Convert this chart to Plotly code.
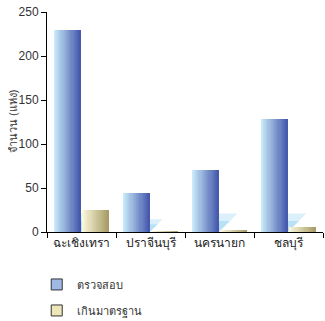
import plotly.graph_objects as go

provinces = ["ฉะเชิงเทรา", "ปราจีนบุรี", "นครนายก", "ชลบุรี"]
inspected = [230, 44, 71, 128]
over_standard = [25, 1, 2, 6]
series_names = ["ตรวจสอบ", "เกินมาตรฐาน"]

y_ticks = [0, 50, 100, 150, 200, 250]


def lerp_hex(c1, c2, t):
    a = [int(c1[i:i + 2], 16) for i in (1, 3, 5)]
    b = [int(c2[i:i + 2], 16) for i in (1, 3, 5)]
    return "#" + "".join(f"{round(a[k] + (b[k] - a[k]) * t):02x}" for k in range(3))


fig = go.Figure()

BLUE_START = -0.395
BAR_W = 0.385

# floor shadow behind the second bar of each group (main, linear x axis)
for i, v in enumerate(inspected):
    h = min(21.0, 0.33 * v)          # shadow height in value units
    w = h * 0.88 / 69.0              # matching width in category units
    r = i + BLUE_START + BAR_W
    for frac, col in [(1.0, "#dbf0fb"), (0.6, "#b9e1f6")]:
        fig.add_trace(go.Scatter(
            x=[r, r, r + w * frac, r], y=[0, h * frac, h * frac, 0],
            mode="lines", fill="toself", fillcolor=col, line=dict(width=0),
            xaxis="x", yaxis="y", showlegend=False, hoverinfo="skip",
        ))

# each bar is drawn as thin vertical slices to get a left-to-right gradient
N = 24
groups = [
    (inspected, BLUE_START, "#c9ecfa", "#4659ad"),
    (over_standard, 0.012, "#fbf9dc", "#a89d68"),
]
for values, start, c_light, c_dark in groups:
    sw = BAR_W / N
    for i in range(N):
        fig.add_trace(go.Bar(
            x=provinces, y=values, xaxis="x2", yaxis="y",
            width=sw * 1.05, offset=start + i * sw,
            marker=dict(color=lerp_hex(c_light, c_dark, i / (N - 1)), line=dict(width=0)),
            showlegend=False, hoverinfo="skip",
        ))

# legend entries
for name, fill in zip(series_names, ["#9fb9e6", "#ece6b8"]):
    fig.add_trace(go.Scatter(
        x=[None], y=[None], mode="markers", name=name, legendgroup=name,
        xaxis="x", yaxis="y",
        marker=dict(symbol="square", size=11, color=fill,
                    line=dict(color="#333333", width=1)),
    ))

fig.update_layout(
    width=325, height=321,
    margin=dict(l=47, r=2, t=12, b=89, autoexpand=False),
    paper_bgcolor="white", plot_bgcolor="white",
    barmode="overlay", bargap=0,
    font=dict(family="Liberation Sans, Arial, sans-serif", size=12, color="#222222"),
    showlegend=True,
    legend=dict(
        xref="container", yref="container", x=0.113, y=0.159,
        xanchor="left", yanchor="top",
        font=dict(size=11, color="#333333"),
        tracegroupgap=7, bgcolor="rgba(0,0,0,0)",
    ),
    xaxis=dict(
        range=[-0.5, 3.5], showticklabels=False, ticks="",
        showline=False, showgrid=False, zeroline=False,
    ),
    xaxis2=dict(
        type="category", range=[-0.5, 3.5], overlaying="x", side="bottom",
        showline=True, linecolor="#000000", linewidth=1,
        ticks="outside", tickson="boundaries", ticklen=5, tickcolor="#000000",
        tickfont=dict(size=12, color="#222222"), tickangle=0,
        showgrid=False, zeroline=False,
    ),
    yaxis=dict(
        range=[0, 250], tickvals=y_ticks,
        showline=True, linecolor="#000000", linewidth=1,
        ticks="outside", ticklen=5, tickcolor="#000000",
        tickfont=dict(size=12, color="#333333"),
        showgrid=False, zeroline=False,
    ),
    annotations=[dict(
        text="จำนวน (แห่ง)", textangle=-90, showarrow=False,
        xref="paper", yref="paper", x=(13 - 47) / 276, y=0.5,
        xanchor="center", yanchor="middle",
        font=dict(size=11, color="#333333"),
    )],
)

fig.write_html("out.html")
